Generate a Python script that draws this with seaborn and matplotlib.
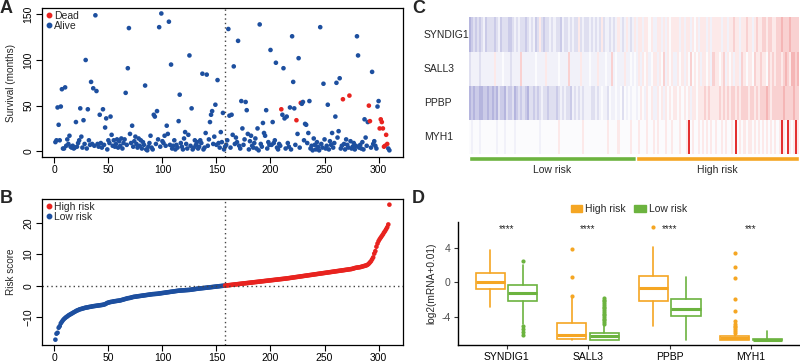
import numpy as np
import pandas as pd
import seaborn as sns
import matplotlib
matplotlib.use("Agg")
import matplotlib.pyplot as plt
from matplotlib.colors import LinearSegmentedColormap
from matplotlib.lines import Line2D
from matplotlib.patches import Patch

sns.set_style("ticks")
plt.rcParams["font.family"] = ["Liberation Sans", "DejaVu Sans"]

# ---- panel A: survival per patient, patients ordered by risk score ----
survival = [
    10, 12, 48, 29, 12, 49, 68, 3, 3, 70,
    6, 13, 8, 17, 5, 4, 6, 3, 4, 32,
    5, 9, 12, 47, 16, 4, 34, 8, 100, 3,
    46, 12, 7, 76, 8, 69, 6, 149, 66, 8,
    5, 40, 9, 4, 46, 7, 26, 36, 2, 12,
    9, 38, 18, 6, 12, 5, 8, 13, 4, 11,
    6, 14, 3, 9, 13, 64, 7, 91, 135, 19,
    9, 28, 5, 11, 16, 8, 4, 14, 6, 12,
    3, 10, 7, 72, 2, 1, 5, 9, 17, 4,
    2, 40, 38, 8, 44, 13, 136, 5, 151, 11,
    9, 17, 6, 28, 19, 142, 7, 95, 3, 6,
    12, 2, 7, 4, 33, 62, 9, 5, 2, 14,
    21, 8, 3, 18, 105, 6, 47, 2, 4, 12,
    7, 10, 3, 5, 12, 9, 85, 2, 4, 20,
    84, 6, 13, 32, 40, 44, 8, 16, 51, 7,
    78, 9, 4, 21, 10, 42, 2, 5, 7, 12,
    134, 39, 4, 40, 18, 93, 8, 15, 10, 121,
    6, 3, 55, 25, 7, 13, 54, 45, 19, 2,
    11, 17, 6, 4, 9, 14, 3, 25, 1, 139,
    8, 5, 31, 20, 17, 45, 3, 10, 7, 111,
    7, 32, 9, 12, 97, 4, 2, 8, 6, 46,
    40, 91, 36, 3, 38, 9, 5, 48, 2, 126,
    76, 47, 7, 34, 19, 102, 4, 53, 52, 54,
    12, 30, 29, 9, 20, 55, 3, 6, 1, 14,
    7, 2, 10, 5, 1, 136, 8, 4, 74, 13,
    3, 6, 51, 2, 11, 7, 20, 4, 9, 38,
    75, 15, 22, 80, 3, 6, 57, 8, 2, 13,
    7, 4, 61, 11, 3, 5, 9, 2, 6, 126,
    105, 4, 7, 3, 10, 2, 35, 15, 6, 32,
    50, 33, 4, 87, 8, 11, 6, 3, 49, 55,
    25, 35, 32, 25, 5, 6, 18, 8, 3, 1,
]
dead_patients = [210, 224, 228, 267, 273, 291, 292, 301, 302, 303, 304, 305, 306, 307, 308]

# ---- panel B: sorted risk score ----
risk_score = [
    -17.2, -15.3, -15.0, -13.4, -12.9, -12.0, -11.5, -11.0, -10.6, -10.3,
    -10.0, -9.8, -9.5, -9.3, -9.1, -8.9, -8.7, -8.5, -8.3, -8.1,
    -7.9, -7.8, -7.6, -7.5, -7.4, -7.3, -7.2, -7.1, -7.0, -6.95,
    -6.9, -6.8, -6.75, -6.7, -6.6, -6.55, -6.5, -6.45, -6.4, -6.35,
    -6.3, -6.25, -6.2, -6.15, -6.1, -6.0, -5.9, -5.7, -5.5, -5.4,
    -5.3, -5.2, -5.15, -5.1, -5.0, -4.95, -4.9, -4.85, -4.8, -4.75,
    -4.7, -4.6, -4.5, -4.4, -4.3, -4.2, -4.1, -4.0, -3.95, -3.9,
    -3.8, -3.7, -3.6, -3.55, -3.5, -3.45, -3.4, -3.35, -3.3, -3.25,
    -3.2, -3.15, -3.1, -3.05, -3.0, -2.95, -2.9, -2.85, -2.8, -2.75,
    -2.7, -2.68, -2.65, -2.62, -2.6, -2.55, -2.5, -2.45, -2.4, -2.35,
    -2.3, -2.25, -2.2, -2.15, -2.1, -2.05, -2.0, -1.95, -1.9, -1.85,
    -1.8, -1.75, -1.7, -1.65, -1.6, -1.58, -1.55, -1.52, -1.5, -1.47,
    -1.45, -1.42, -1.4, -1.37, -1.35, -1.3, -1.25, -1.2, -1.15, -1.1,
    -1.05, -1.0, -0.95, -0.9, -0.87, -0.83, -0.8, -0.76, -0.72, -0.68,
    -0.64, -0.6, -0.56, -0.52, -0.48, -0.44, -0.4, -0.36, -0.32, -0.28,
    -0.24, -0.2, -0.16, -0.12, -0.08, -0.05, -0.02, 0.02, 0.06, 0.1,
    0.14, 0.18, 0.22, 0.26, 0.3, 0.34, 0.38, 0.42, 0.46, 0.5,
    0.54, 0.58, 0.62, 0.66, 0.7, 0.74, 0.78, 0.82, 0.86, 0.9,
    0.94, 0.98, 1.02, 1.06, 1.1, 1.14, 1.18, 1.22, 1.26, 1.3,
    1.34, 1.38, 1.42, 1.46, 1.5, 1.54, 1.58, 1.62, 1.66, 1.7,
    1.74, 1.78, 1.82, 1.86, 1.9, 1.94, 1.98, 2.02, 2.06, 2.1,
    2.14, 2.18, 2.22, 2.26, 2.3, 2.35, 2.4, 2.45, 2.5, 2.55,
    2.6, 2.65, 2.7, 2.75, 2.8, 2.85, 2.9, 2.95, 3.0, 3.05,
    3.1, 3.15, 3.2, 3.25, 3.3, 3.35, 3.4, 3.45, 3.5, 3.55,
    3.6, 3.65, 3.7, 3.75, 3.8, 3.85, 3.9, 3.95, 4.0, 4.05,
    4.1, 4.15, 4.2, 4.25, 4.3, 4.35, 4.4, 4.45, 4.5, 4.55,
    4.6, 4.65, 4.7, 4.75, 4.8, 4.85, 4.9, 4.95, 5.0, 5.05,
    5.1, 5.15, 5.2, 5.25, 5.3, 5.4, 5.5, 5.6, 5.7, 5.75,
    5.8, 5.85, 5.9, 6.0, 6.1, 6.2, 6.3, 6.4, 6.5, 6.7,
    7.0, 7.4, 7.8, 8.4, 9.0, 10.2, 11.0, 12.4, 13.4, 14.2,
    14.8, 15.3, 15.8, 16.3, 16.9, 17.4, 18.0, 18.6, 19.5, 25.8,
]
n_low = 157
n_high = 153

# ---- panel C: expression heatmap (coded levels, 160 columns, low -> high risk) ----
genes = ["SYNDIG1", "SALL3", "PPBP", "MYH1"]
heat_syndig1 = ["1232323423", "3323423332", "2343433234", "3423632334",
                "3433243343", "4336343343", "4343634434", "3464346434",
                "6466466564", "4664646566", "6646466465", "6466646466",
                "6646646676", "6466766467", "6677677667", "7877787777"]
heat_sall3 = ["3444434444", "4464445444", "3444474444", "4454444644",
              "4445444474", "4444644454", "4464445447", "4544464454",
              "5464656456", "6465746564", "4656465756", "5646656476",
              "6567465646", "6476566576", "6766576767", "7678768878"]
heat_ppbp = ["1212211221", "2121322132", "2312323213", "3232343323",
             "3323434332", "4343434443", "3434544354", "4545354545",
             "5456546564", "4656465656", "6565656466", "5666767666",
             "6767676776", "7677767767", "6777876777", "7787777877"]
heat_myh1 = ["5455545555", "5554555455", "5545555555", "5555455555",
             "5556555555", "5555565555", "5555555655", "5565555565",
             "5565556556", "5655565565", "5565569565", "5656565656",
             "5565655659", "5656566565", "6565656565", "6965965696"]
level_value = {"1": -0.35, "2": -0.25, "3": -0.15, "4": -0.07, "5": -0.02,
               "6": 0.1, "7": 0.2, "8": 0.32, "9": 0.9}

# ---- panel D: boxplot statistics ----
high_q1 = [-0.76, -6.55, -2.17, -6.7]
high_med = [0.11, -6.05, -0.64, -6.47]
high_q3 = [1.14, -4.64, 0.77, -6.24]
high_lo = [-2.8, -6.62, -5.0, -6.72]
high_hi = [3.8, -1.8, 4.05, -5.9]
high_out = [[], [3.93, 0.69, -1.55], [6.4],
            [3.43, 1.76, 0.57, -1.86, -3.35, -4.45, -4.8, -5.0, -5.2, -5.4, -5.6, -5.8]]
low_q1 = [-2.2, -6.63, -3.88, -6.7]
low_med = [-1.2, -6.17, -3.12, -6.66]
low_q3 = [-0.34, -5.86, -1.9, -6.6]
low_lo = [-4.8, -6.65, -6.63, -6.72]
low_hi = [2.0, -5.0, 0.69, -5.67]
low_out = [[2.5, -5.05, -5.4, -5.75, -6.05],
           [-1.8, -2.0, -2.2, -2.4, -2.6, -2.8, -3.0, -3.2, -3.4, -3.6, -3.8, -4.0, -4.2, -4.4, -4.6, -4.8],
           [], []]
stars = ["****", "****", "****", "***"]

blue = "#1d4f9f"
red = "#e8231f"
orange = "#f5a623"
green = "#6cb33f"

fig = plt.figure(figsize=(8, 3.64), dpi=100)

patient = np.arange(1, len(survival) + 1)
df_a = pd.DataFrame({"patient": patient, "survival": survival})
df_a["status"] = np.where(df_a["patient"].isin(dead_patients), "Dead", "Alive")
df_b = pd.DataFrame({"patient": patient, "risk": risk_score})
df_b["group"] = np.where(df_b["patient"] <= n_low, "Low risk", "High risk")


def base_r_axes(ax):
    for s in ax.spines.values():
        s.set_linewidth(0.9)
        s.set_color("black")
    ax.tick_params(length=4, width=0.8, labelsize=7.5, pad=2, colors="black")
    plt.setp(ax.get_yticklabels(), rotation=90, va="center")
    ax.set_xlabel("")


# A
axa = fig.add_axes([0.0525, 0.5687, 0.451, 0.4093])
sns.scatterplot(data=df_a, x="patient", y="survival", hue="status", hue_order=["Alive", "Dead"],
                palette={"Alive": blue, "Dead": red}, s=11, linewidth=0, legend=False, ax=axa)
axa.axvline(n_low + 0.5, color="#444444", lw=1, ls=(0, (1, 2.2)))
axa.set_xlim(-11.4, 322.4)
axa.set_ylim(-6.3, 157)
axa.set_xticks([0, 50, 100, 150, 200, 250, 300])
axa.set_yticks([0, 50, 100, 150])
base_r_axes(axa)
axa.set_ylabel("Survival (months)", fontsize=7.2)
axa.yaxis.set_label_coords(-0.073, 0.5)
axa.legend(handles=[Line2D([], [], marker="o", ls="", color=red, markersize=3.2, label="Dead"),
                    Line2D([], [], marker="o", ls="", color=blue, markersize=3.2, label="Alive")],
           loc="upper left", frameon=False, fontsize=7.5, handletextpad=0.1, labelspacing=0.05,
           borderaxespad=0.15, handlelength=0.8, borderpad=0.1)

# B
axb = fig.add_axes([0.0525, 0.0522, 0.451, 0.4011])
sns.scatterplot(data=df_b, x="patient", y="risk", hue="group", hue_order=["Low risk", "High risk"],
                palette={"Low risk": blue, "High risk": red}, s=11, linewidth=0, legend=False, ax=axb)
axb.axvline(n_low + 0.5, color="#444444", lw=1, ls=(0, (1, 2.2)))
axb.axhline(0, color="#444444", lw=1, ls=(0, (1, 2.2)))
axb.set_xlim(-11.4, 322.4)
axb.set_ylim(-18.9, 27.6)
axb.set_xticks([0, 50, 100, 150, 200, 250, 300])
axb.set_yticks([-10, 0, 10, 20])
base_r_axes(axb)
axb.set_ylabel("Risk score", fontsize=7.2)
axb.yaxis.set_label_coords(-0.073, 0.5)
axb.legend(handles=[Line2D([], [], marker="o", ls="", color=red, markersize=3.2, label="High risk"),
                    Line2D([], [], marker="o", ls="", color=blue, markersize=3.2, label="Low risk")],
           loc="upper left", frameon=False, fontsize=7.5, handletextpad=0.1, labelspacing=0.05,
           borderaxespad=0.15, handlelength=0.8, borderpad=0.1)

# C
rows = [heat_syndig1, heat_sall3, heat_ppbp, heat_myh1]
mat = np.array([[level_value[c] for c in "".join(r)] for r in rows])
cmap = LinearSegmentedColormap.from_list("bwr_soft", ["#2b2ba0", "#ffffff", "#e01a1a"])
axc = fig.add_axes([0.586, 0.577, 0.413, 0.375])
sns.heatmap(mat, cmap=cmap, vmin=-1, vmax=1, cbar=False, xticklabels=False, yticklabels=False, ax=axc)
for i, g in enumerate(genes):
    axc.text(-0.136, 1 - (i + 0.5) / 4, g, transform=axc.transAxes, ha="left", va="center", fontsize=7.5)

axg = fig.add_axes([0.586, 0.559, 0.413, 0.0124])
axg.barh(0, n_low, left=0, height=1, color=green)
axg.barh(0, n_high, left=n_low, height=1, color=orange)
axg.set_xlim(0, n_low + n_high)
axg.set_ylim(-0.5, 0.5)
axg.axis("off")
axg.text(n_low / 2, -2.6, "Low risk", ha="center", va="center", fontsize=7.5, clip_on=False)
axg.text(n_low + n_high / 2, -2.6, "High risk", ha="center", va="center", fontsize=7.5, clip_on=False)

# D
axd = fig.add_axes([0.572, 0.052, 0.428, 0.339])
stats = []
positions = []
colors = []
for i in range(len(genes)):
    stats.append(dict(med=high_med[i], q1=high_q1[i], q3=high_q3[i], whislo=high_lo[i],
                      whishi=high_hi[i], fliers=high_out[i]))
    positions.append(i - 0.2)
    colors.append(orange)
    stats.append(dict(med=low_med[i], q1=low_q1[i], q3=low_q3[i], whislo=low_lo[i],
                      whishi=low_hi[i], fliers=low_out[i]))
    positions.append(i + 0.2)
    colors.append(green)
for st, pos, col in zip(stats, positions, colors):
    axd.bxp([st], positions=[pos], widths=0.36, showcaps=False, patch_artist=True,
            boxprops=dict(facecolor="white", edgecolor=col, linewidth=1.2),
            medianprops=dict(color=col, linewidth=2.2),
            whiskerprops=dict(color=col, linewidth=1.2),
            flierprops=dict(marker="o", markersize=3, markerfacecolor=col, markeredgecolor="none"))
for i, s in enumerate(stars):
    axd.text(i, 5.8, s, ha="center", va="baseline", fontsize=7)
axd.set_xlim(-0.6, 3.6)
axd.set_ylim(-7.25, 7.04)
axd.set_xticks(range(len(genes)))
axd.set_xticklabels(genes)
axd.set_yticks([-4, 0, 4])
axd.set_yticklabels(["-4", "0", "4"])
sns.despine(ax=axd)
for s in ["left", "bottom"]:
    axd.spines[s].set_linewidth(1)
    axd.spines[s].set_color("black")
axd.tick_params(axis="both", length=3, width=0.8, color="#333333", labelsize=7.5, pad=2)
axd.tick_params(axis="y", labelcolor="#4d4d4d")
axd.tick_params(axis="x", labelcolor="black", pad=2)
axd.set_ylabel("log2(mRNA+0.01)", fontsize=7.3)
axd.yaxis.set_label_coords(-0.062, 0.5)
axd.legend(handles=[Patch(facecolor=orange, edgecolor=orange, label="High risk"),
                    Patch(facecolor=green, edgecolor=green, label="Low risk")],
           loc="center", bbox_to_anchor=(0.5, 1.1), ncol=2, frameon=False, fontsize=7.5,
           handlelength=1.1, handleheight=0.6, handletextpad=0.3, columnspacing=0.8)

# panel letters
for lab, x, y in [("A", 0.0, 1.0), ("B", 0.0, 0.478), ("C", 0.515, 1.0), ("D", 0.515, 0.478)]:
    fig.text(x, y, lab, fontsize=13, fontweight="bold", va="top", ha="left")

fig.savefig("out.png", dpi=100)
